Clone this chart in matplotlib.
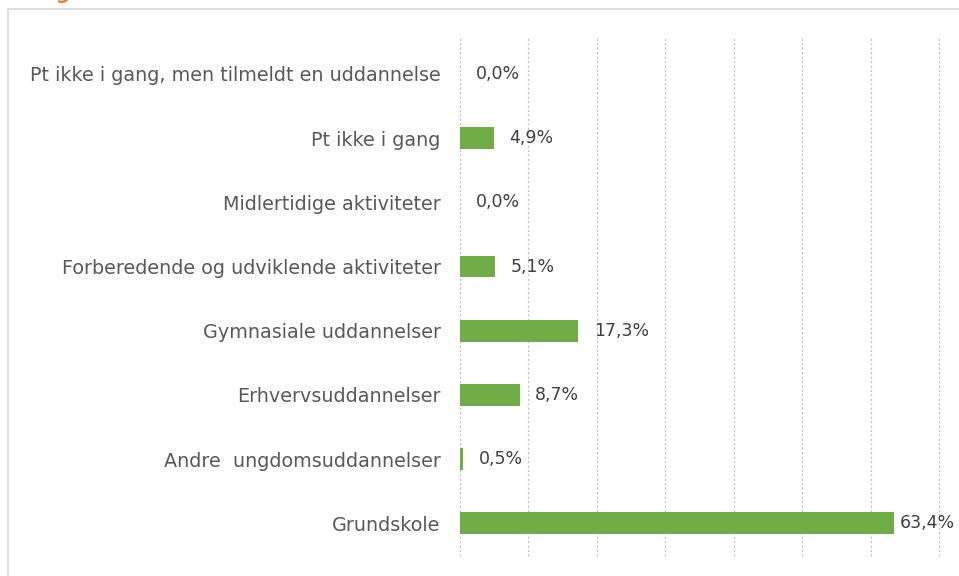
import matplotlib.pyplot as plt
import matplotlib.patches as pc

# kategorier nedefra og op (som i figuren)
categories = ["Grundskole",
              "Andre  ungdomsuddannelser",
              "Erhvervsuddannelser",
              "Gymnasiale uddannelser",
              "Forberedende og udviklende aktiviteter",
              "Midlertidige aktiviteter",
              "Pt ikke i gang",
              "Pt ikke i gang, men tilmeldt en uddannelse"]
values = [63.4, 0.5, 8.7, 17.3, 5.1, 0.0, 4.9, 0.0]
xticks = [0, 10, 20, 30, 40, 50, 60, 70]

plt.rcParams['font.family'] = ['DejaVu Sans']

fig = plt.figure(figsize=(9.59, 5.76), dpi=100)
ax = fig.add_axes([0.4797, 0.0347, 0.4994, 0.8993])

ypos = list(range(len(categories)))
ax.barh(ypos, values, height=0.34, color='#70ad47', zorder=3)

for y, v in zip(ypos, values):
    # etiketten skubbes ind, hvis den ellers gaar ud over kanten
    ax.text(min(v + 2.3, 64.3), y, ('%.1f%%' % v).replace('.', ','),
            va='center', ha='left', fontsize=12.5, color='#404040', zorder=4)

ax.set_xlim(0, 70)
ax.set_ylim(-0.51, 7.56)
ax.set_xticks(xticks)
ax.set_xticklabels([])
ax.set_yticks(ypos)
ax.set_yticklabels(categories, fontsize=13.8, color='#595959')
ax.tick_params(axis='y', length=0, pad=14)
ax.tick_params(axis='x', length=0)
ax.grid(axis='x', color='#bfbfbf', linestyle=(0, (2, 2)), linewidth=0.8, zorder=0)
for ln in ax.get_xgridlines():
    ln.set_clip_on(False)
for s in ax.spines.values():
    s.set_visible(False)

# ramme om diagrammet
fig.patches.append(pc.Rectangle((8 / 959, -0.1), 1.1, 1 - 9 / 576 + 0.1,
                                transform=fig.transFigure, fill=False,
                                edgecolor='#d9d9d9', linewidth=1.2))
# afskaaret overskrift
fig.text(55 / 959, 1.012, "g", color='#ed7d31', fontsize=14, fontweight='bold',
         va='center', ha='left')

fig.savefig('out.png', dpi=100)
